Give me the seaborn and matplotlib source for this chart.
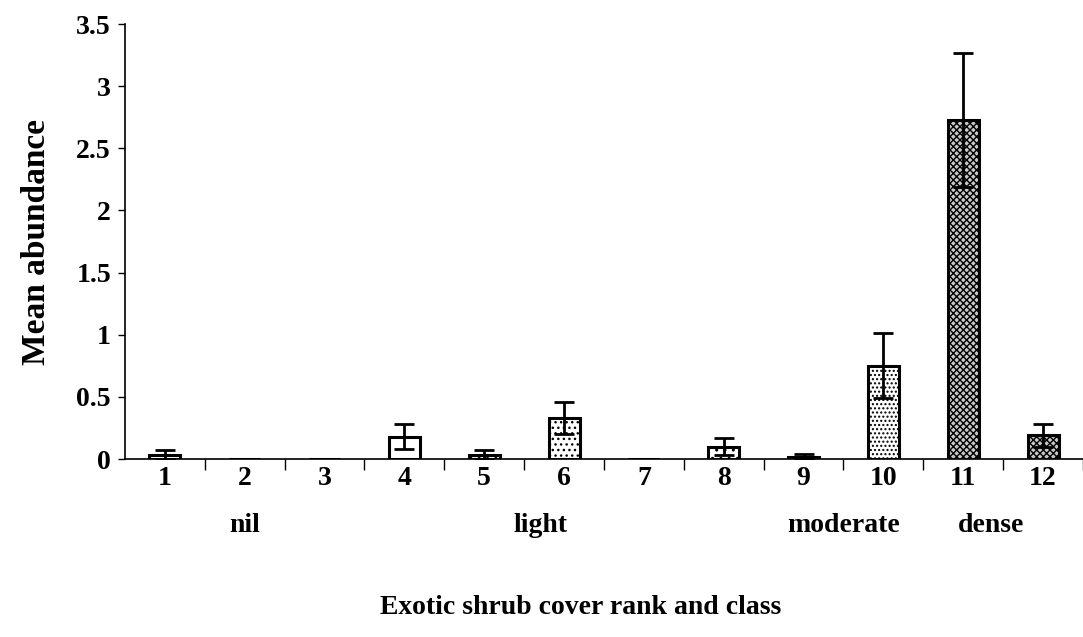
import matplotlib
matplotlib.use("Agg")
import matplotlib.pyplot as plt
import seaborn as sns
import numpy as np
import pandas as pd

ranks = ["1", "2", "3", "4", "5", "6", "7", "8", "9", "10", "11", "12"]
means = [0.03, 0.0, 0.0, 0.18, 0.03, 0.33, 0.0, 0.10, 0.02, 0.75, 2.73, 0.19]
errors = [0.04, 0.0, 0.0, 0.10, 0.04, 0.13, 0.0, 0.07, 0.02, 0.26, 0.54, 0.09]
classes = ["nil", "light", "moderate", "dense"]
class_pos = [1.0, 4.7, 8.5, 10.35]
hatches = ["", "", "", "", "..", "...", "", "..", "", "....", "xxxxx", "xxxxx"]
faces = ["white", "white", "white", "white", "white", "white", "white", "white",
         "black", "white", "#c8c8c8", "#c8c8c8"]

sns.set_theme(style="white")
plt.rcParams["font.family"] = ["Liberation Serif", "DejaVu Serif"]
plt.rcParams["font.weight"] = "bold"
plt.rcParams["hatch.linewidth"] = 1.0
for k in ["text.color", "axes.labelcolor", "xtick.color", "ytick.color"]:
    plt.rcParams[k] = "black"

FS = 20
fig = plt.figure(figsize=(10.83, 6.37), dpi=100)
ax = fig.add_axes([0.1154, 0.2794, 0.8846, 0.6829])

df = pd.DataFrame({"rank": ranks, "mean": means})
sns.barplot(data=df, x="rank", y="mean", order=ranks, color="white",
            edgecolor="black", linewidth=2.2, width=0.39, ax=ax, errorbar=None,
            saturation=1)
for p, h, fc in zip(ax.patches, hatches, faces):
    p.set_facecolor(fc)
    p.set_hatch(h)
    p.set_edgecolor("black")

xpos = [p.get_x() + p.get_width() / 2 for p in ax.patches]
errs = np.array(errors)
m = errs > 0
ax.errorbar(np.array(xpos)[m], np.array(means)[m], yerr=errs[m], fmt="none",
            ecolor="black", elinewidth=2.0, capsize=7, capthick=2.0, zorder=5)

ax.set_ylim(0, 3.5)
ax.set_xlim(-0.5, 11.5)
ax.set_yticks([0, 0.5, 1, 1.5, 2, 2.5, 3, 3.5])
ax.set_yticklabels(["0", "0.5", "1", "1.5", "2", "2.5", "3", "3.5"])
ax.tick_params(axis="y", direction="out", length=5, width=1, left=True,
               labelsize=FS, pad=5)
ax.set_xticks(range(len(ranks)))
ax.set_xticklabels(ranks)
ax.set_xticks(np.arange(len(ranks)) + 0.5, minor=True)
ax.tick_params(axis="x", which="major", length=0, labelsize=FS, pad=5)
ax.tick_params(axis="x", which="minor", direction="out", length=8, width=1,
               bottom=True)
for lab in ax.get_xticklabels() + ax.get_yticklabels():
    lab.set_fontweight("bold")

for s in ["top", "right"]:
    ax.spines[s].set_visible(False)
for s in ["left", "bottom"]:
    ax.spines[s].set_color("black")
    ax.spines[s].set_linewidth(1.2)

trans = matplotlib.transforms.blended_transform_factory(ax.transData, fig.transFigure)
for c, xp in zip(classes, class_pos):
    ax.text(xp, 1 - 525 / 637, c, transform=trans, ha="center", va="center",
            fontsize=FS, fontweight="bold")

ax.set_ylabel("Mean abundance", fontsize=24, fontweight="bold")
ax.yaxis.set_label_coords(-0.076, 0.5)
ax.set_xlabel("")
fig.text(581 / 1083, 1 - 608 / 637, "Exotic shrub cover rank and class",
         ha="center", va="center", fontsize=FS, fontweight="bold")

fig.savefig("out.png", dpi=100)
